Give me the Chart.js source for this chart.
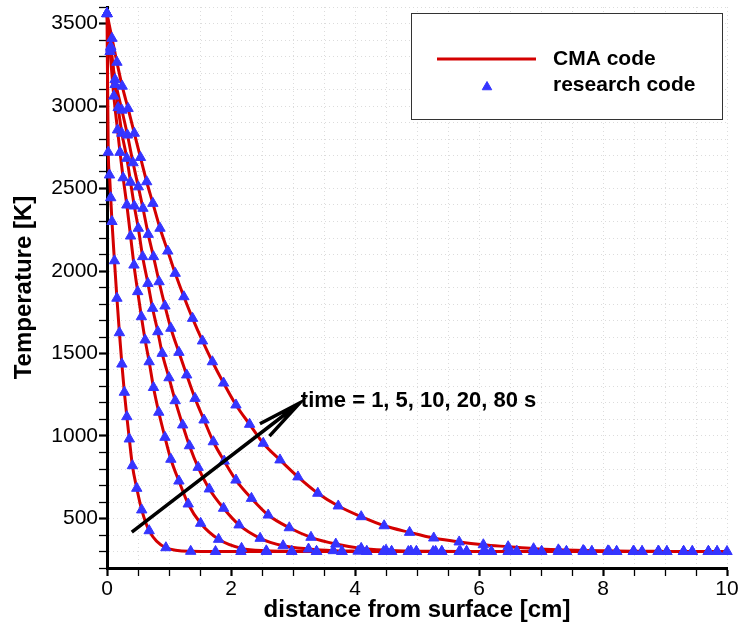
<!DOCTYPE html>
<html lang="en">
  <head>
    <meta charset="utf-8" />
    <title>Temperature profiles</title>
    <style>
      * {
        margin: 0;
        padding: 0;
      }
      body {
        background: #fff;
      }
      #chart {
        display: block;
      }
    </style>
  </head>
  <body>
    <canvas id="chart" width="739" height="630"></canvas>

    <script src="https://cdn.jsdelivr.net/npm/chart.js"></script>

    <script>
      // times of the five profiles [s]
      const times = [1, 5, 10, 20, 80];

      // t = 1 s
      const x1 = [0, 0.02, 0.04, 0.06, 0.08, 0.12, 0.16, 0.2, 0.24, 0.28, 0.32, 0.36, 0.41, 0.48, 0.56, 0.68, 0.95, 1.35, 1.75, 2.16, 2.57, 2.98, 3.38, 3.79, 4.19, 4.59, 4.99, 5.4, 5.8, 6.2, 6.61, 7.01, 7.41, 7.82, 8.22, 8.63, 9.03, 9.44, 9.84];
      const t1 = [3560, 2720, 2582, 2444, 2300, 2062, 1835, 1626, 1436, 1265, 1117, 982, 820, 683, 552, 426, 323, 301, 300, 300, 300, 300, 300, 300, 300, 300, 300, 300, 300, 300, 300, 300, 300, 300, 300, 300, 300, 300, 300];

      // t = 5 s
      const x2 = [0, 0.05, 0.11, 0.17, 0.21, 0.26, 0.32, 0.38, 0.435, 0.495, 0.555, 0.615, 0.68, 0.75, 0.835, 0.935, 1.03, 1.16, 1.31, 1.51, 1.8, 2.17, 2.57, 2.98, 3.38, 3.79, 4.19, 4.59, 4.99, 5.4, 5.8, 6.2, 6.61, 7.01, 7.41, 7.82, 8.22, 8.63, 9.03, 9.44, 9.84];
      const t2 = [3560, 3330, 3060, 2855, 2719, 2565, 2400, 2212, 2036, 1875, 1723, 1582, 1450, 1294, 1144, 992, 859, 727, 588, 471, 374, 319, 304, 301, 300, 300, 300, 300, 300, 300, 300, 300, 300, 300, 300, 300, 300, 300, 300, 300, 300];

      // t = 10 s
      const x3 = [0, 0.06, 0.13, 0.18, 0.24, 0.32, 0.38, 0.44, 0.505, 0.575, 0.66, 0.735, 0.82, 0.89, 1.0, 1.1, 1.22, 1.33, 1.47, 1.65, 1.88, 2.13, 2.47, 2.84, 3.25, 3.65, 4.05, 4.46, 4.86, 5.26, 5.68, 6.07, 6.47, 6.88, 7.28, 7.68, 8.08, 8.49, 8.89, 9.3, 9.7];
      const t3 = [3560, 3360, 3130, 2990, 2835, 2683, 2538, 2394, 2259, 2087, 1925, 1774, 1632, 1501, 1353, 1214, 1067, 941, 810, 679, 562, 461, 380, 335, 315, 305, 302, 300, 300, 300, 300, 300, 300, 300, 300, 300, 300, 300, 300, 300, 300];

      // t = 20 s
      const x4 = [0, 0.06, 0.13, 0.24, 0.33, 0.42, 0.505, 0.58, 0.665, 0.75, 0.84, 0.935, 1.03, 1.16, 1.285, 1.42, 1.565, 1.715, 1.89, 2.08, 2.33, 2.6, 2.94, 3.29, 3.69, 4.1, 4.5, 4.9, 5.3, 5.7, 6.1, 6.5, 6.9, 7.3, 7.7, 8.1, 8.5, 8.9, 9.3, 9.7];
      const t4 = [3560, 3350, 3160, 2975, 2824, 2656, 2510, 2380, 2222, 2087, 1935, 1788, 1653, 1507, 1370, 1228, 1097, 965, 848, 733, 622, 521, 444, 386, 345, 319, 308, 303, 301, 300, 300, 300, 300, 300, 300, 300, 300, 300, 300, 300];

      // t = 80 s
      const x5 = [0, 0.08, 0.16, 0.245, 0.34, 0.44, 0.54, 0.64, 0.74, 0.855, 0.98, 1.1, 1.24, 1.38, 1.54, 1.7, 1.88, 2.08, 2.3, 2.52, 2.79, 3.08, 3.4, 3.73, 4.1, 4.47, 4.88, 5.27, 5.68, 6.07, 6.47, 6.88, 7.28, 7.68, 8.08, 8.49, 8.89, 9.3, 9.7, 10];
      const t5 = [3560, 3410, 3265, 3120, 2985, 2835, 2688, 2541, 2410, 2259, 2121, 1986, 1844, 1713, 1576, 1450, 1321, 1188, 1071, 956, 855, 752, 653, 576, 511, 456, 416, 382, 358, 341, 329, 317, 310, 306, 304, 302, 301, 300, 300, 300];

      // labelled ticks
      const xLabels = [0, 2, 4, 6, 8, 10];
      const yLabels = [500, 1000, 1500, 2000, 2500, 3000, 3500];

      // arrow of the annotation, in data units
      const arrowFrom = [0.4, 418];
      const arrowTo = [3.11, 1200];

      const RED = "#d40000";
      const BLUE = "#3535ff";
      const FONT = '"Liberation Sans", Arial, sans-serif';

      const curves = [
        [x1, t1],
        [x2, t2],
        [x3, t3],
        [x4, t4],
        [x5, t5],
      ];

      const datasets = [];
      curves.forEach(([xs, ts]) => {
        const pts = xs.map((x, i) => ({ x: x, y: ts[i] }));
        datasets.push({
          label: "research code",
          data: pts,
          showLine: false,
          pointStyle: "triangle",
          pointRadius: 6,
          pointHoverRadius: 6,
          backgroundColor: BLUE,
          borderColor: BLUE,
          borderWidth: 1,
          order: 0,
          clip: 12,
        });
        datasets.push({
          label: "CMA code",
          data: pts,
          showLine: true,
          borderColor: RED,
          borderWidth: 3,
          pointRadius: 0,
          cubicInterpolationMode: "monotone",
          order: 1,
          clip: 4,
        });
      });

      function triangle(ctx, cx, cy, r) {
        ctx.beginPath();
        ctx.moveTo(cx + Math.sin((2 * Math.PI) / 3) * r, cy - Math.cos((2 * Math.PI) / 3) * r);
        ctx.lineTo(cx + Math.sin((4 * Math.PI) / 3) * r, cy - Math.cos((4 * Math.PI) / 3) * r);
        ctx.lineTo(cx, cy - r);
        ctx.closePath();
        ctx.fill();
        ctx.stroke();
      }

      const overlay = {
        id: "overlay",
        afterDraw(chart) {
          const {
            ctx,
            scales: { x, y },
          } = chart;
          ctx.save();

          // legend box
          ctx.fillStyle = "#fff";
          ctx.fillRect(411.5, 13.5, 311, 106);
          ctx.strokeStyle = "#333";
          ctx.lineWidth = 1;
          ctx.strokeRect(411.5, 13.5, 311, 106);

          ctx.beginPath();
          ctx.strokeStyle = RED;
          ctx.lineWidth = 3;
          ctx.moveTo(437, 59);
          ctx.lineTo(536, 59);
          ctx.stroke();

          ctx.fillStyle = BLUE;
          ctx.strokeStyle = BLUE;
          ctx.lineWidth = 1;
          triangle(ctx, 487, 87, 5.5);

          ctx.fillStyle = "#000";
          ctx.font = "bold 21px " + FONT;
          ctx.textBaseline = "middle";
          ctx.textAlign = "left";
          ctx.fillText("CMA code", 553, 59);
          ctx.fillText("research code", 553, 85);

          // arrow + label
          const ax = x.getPixelForValue(arrowFrom[0]);
          const ay = y.getPixelForValue(arrowFrom[1]);
          const bx = x.getPixelForValue(arrowTo[0]);
          const by = y.getPixelForValue(arrowTo[1]);
          const ang = Math.atan2(ay - by, ax - bx);
          const head = 45;
          const spread = (10 * Math.PI) / 180;

          ctx.strokeStyle = "#000";
          ctx.lineWidth = 3.5;
          ctx.lineCap = "butt";
          ctx.beginPath();
          ctx.moveTo(ax, ay);
          ctx.lineTo(bx, by);
          ctx.moveTo(bx + Math.cos(ang + spread) * head, by + Math.sin(ang + spread) * head);
          ctx.lineTo(bx, by);
          ctx.lineTo(bx + Math.cos(ang - spread) * head, by + Math.sin(ang - spread) * head);
          ctx.stroke();

          ctx.font = "bold 22px " + FONT;
          ctx.textBaseline = "alphabetic";
          ctx.fillText("time = " + times.join(", ") + " s", bx + 1, by + 4);

          ctx.restore();
        },
      };

      const config = {
        type: "scatter",
        data: { datasets: datasets },
        options: {
          responsive: false,
          animation: false,
          devicePixelRatio: 1,
          layout: {
            padding: { top: 7, right: 12, bottom: 0, left: 0 },
          },
          plugins: {
            legend: { display: false },
            tooltip: { enabled: false },
          },
          scales: {
            x: {
              type: "linear",
              min: 0,
              max: 10,
              ticks: {
                stepSize: 0.5,
                autoSkip: false,
                maxRotation: 0,
                padding: 1,
                color: "#000",
                font: { family: FONT, size: 21 },
                callback: (v) => (xLabels.includes(v) ? String(v) : ""),
              },
              grid: {
                color: "#dcdcdc",
                lineWidth: 1,
                tickLength: 8,
                tickColor: "#000",
                tickWidth: (c) => (c.tick && xLabels.includes(c.tick.value) ? 2.2 : 1.3),
              },
              border: { color: "#000", width: 3, dash: [1, 3] },
              title: {
                display: true,
                text: "distance from surface [cm]",
                color: "#000",
                font: { family: FONT, size: 24, weight: "bold" },
                padding: { top: 0, bottom: 5 },
              },
              afterFit: (s) => {
                s.height = 62;
                s.paddingLeft = 0;
                s.paddingRight = 0;
              },
            },
            y: {
              type: "linear",
              min: 200,
              max: 3600,
              ticks: {
                stepSize: 100,
                autoSkip: false,
                padding: 1,
                color: "#000",
                font: { family: FONT, size: 21 },
                callback: (v) => (yLabels.includes(v) ? String(v) : ""),
              },
              grid: {
                color: "#dcdcdc",
                lineWidth: 1,
                tickLength: 8,
                tickColor: "#000",
                tickWidth: (c) => (c.tick && yLabels.includes(c.tick.value) ? 2.2 : 1.3),
              },
              border: { color: "#000", width: 3, dash: [1, 3] },
              title: {
                display: true,
                text: "Temperature [K]",
                color: "#000",
                font: { family: FONT, size: 24, weight: "bold" },
                padding: { top: 10, bottom: 0 },
              },
              afterFit: (s) => {
                s.width = 107;
                s.paddingTop = 0;
                s.paddingBottom = 0;
              },
            },
          },
        },
        plugins: [overlay],
      };

      const myChart = new Chart(document.getElementById("chart"), config);
    </script>
  </body>
</html>
